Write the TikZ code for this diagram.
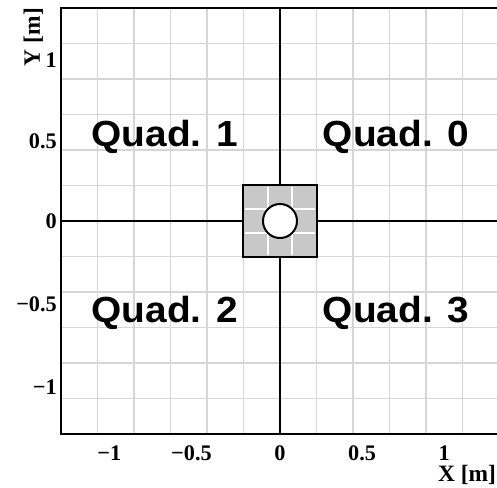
\documentclass[tikz,border=0pt]{standalone}
\usepackage{fontspec}
\setmainfont{Liberation Serif}
\newfontfamily\quadfont{Liberation Sans}
\definecolor{gridgray}{HTML}{D6D6D6}
\definecolor{boxgray}{HTML}{C8C8C8}
\begin{document}
\begin{tikzpicture}[x=4.929cm,y=4.794cm,
  gridline/.style={gridgray,line width=1.2pt},
  frameline/.style={black,line width=1.7pt},
  ticklabel/.style={font=\fontsize{19}{19}\selectfont\bfseries,inner sep=0pt},
  axistitle/.style={font=\fontsize{20}{20}\selectfont\bfseries,inner sep=0pt},
  quadlabel/.style={font=\fontsize{31}{31}\selectfont\quadfont\bfseries,
    xscale=1.07,anchor=base,inner sep=0pt}]
 \useasboundingbox (-1.7042,-1.6646) rectangle (1.3208,1.383);
 % grid
 \foreach \k in {-5,...,-1,1,2,3,4,5} {
  \draw[gridline] (\k*2/9,-4/3) -- (\k*2/9,4/3);
  \draw[gridline] (-4/3,\k*2/9) -- (4/3,\k*2/9);
 }
 \draw[frameline] (0,-4/3) -- (0,4/3);
 \draw[frameline] (-4/3,0) -- (4/3,0);
 % central square with the hole
 \draw[frameline,fill=boxgray] (-2/9,-2/9) rectangle (2/9,2/9);
 \foreach \k in {-1,1} {
  \draw[white,line width=1.2pt] (\k*2/27,-2/9+0.01) -- (\k*2/27,2/9-0.01);
  \draw[white,line width=1.2pt] (-2/9+0.01,\k*2/27) -- (2/9-0.01,\k*2/27);
 }
 \draw[frameline,fill=white] (0,0) circle[radius=0.51cm];
 \draw[frameline] (-4/3,-4/3) rectangle (4/3,4/3);
 % axis labels
 \foreach \v/\t [count=\i] in {-1/\llap{−}1,-0.5/\llap{−}0.5,0/0,0.5/0.5,1/1}
  \node[ticklabel,anchor=base] (xl\i) at (\v,-1.496) {\t};
 \foreach \v/\t [count=\i] in {1.007/1,0.496/0.5,0/0,-0.519/−0.5,-1.037/−1}
  \node[ticklabel,anchor=east] (yl\i) at (-1.357,\v) {\t};
 \node[axistitle,anchor=base east] (xt) at (1.316,-1.631) {X [m]};
 \node[axistitle,anchor=base east,rotate=90] (yt) at (-1.461,4/3) {Y [m]};
 % quadrant names
 \node[quadlabel] (q0) at (0.705,0.469) {Quad. 0};
 \node[quadlabel] (q1) at (-0.702,0.469) {Quad. 1};
 \node[quadlabel] (q2) at (-0.702,-0.638) {Quad. 2};
 \node[quadlabel] (q3) at (0.705,-0.638) {Quad. 3};
\end{tikzpicture}
\end{document}
